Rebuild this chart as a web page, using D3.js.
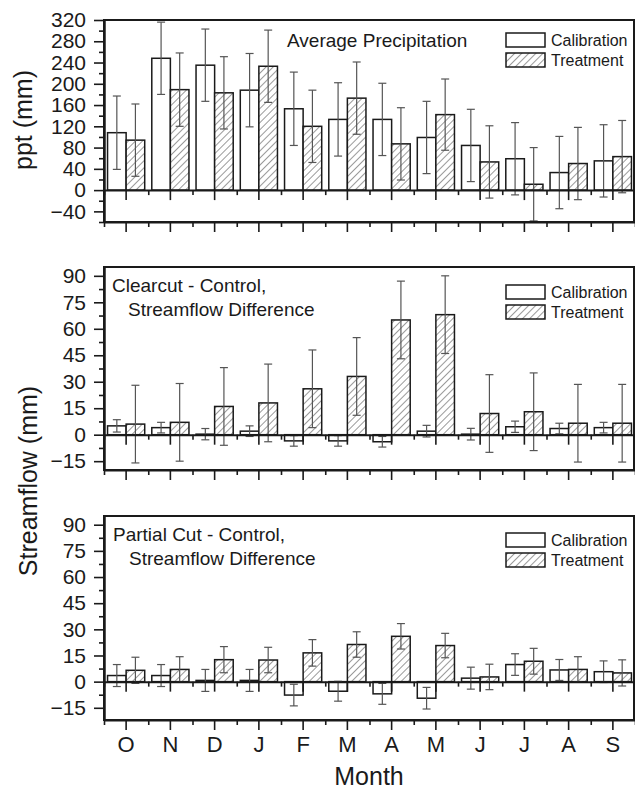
<!DOCTYPE html>
<html>
<head>
<meta charset="utf-8">
<script src="https://cdn.jsdelivr.net/npm/d3@7"></script>
<style>
  body { margin: 0; background: #fff; }
  svg { display: block; }
  text { font-family: "Liberation Sans", Arial, sans-serif; fill: #1a1a1a; }
</style>
</head>
<body>
<script>
/* -----------------------------------------------------
 *  Data
 ----------------------------------------------------- */
const months = ["O", "N", "D", "J", "F", "M", "A", "M", "J", "J", "A", "S"];

// Average precipitation (mm)
const pptCal = [108, 248, 235, 188, 153, 133, 133, 99, 84, 59, 33, 55];
const pptCalErr = [69, 68, 68, 69, 69, 69, 68, 68, 68, 68, 68, 68];
const pptTrt = [94, 189, 183, 233, 120, 173, 87, 142, 53, 11, 50, 63];
const pptTrtErr = [68, 69, 68, 68, 68, 68, 68, 67, 68, 69, 68, 68];

// Clearcut - control streamflow difference (mm)
const clearCal = [5, 4, 0.3, 2, -3.5, -3.5, -4, 2, 0.3, 4.5, 3.5, 4];
const clearCalErr = [3.5, 3, 3.2, 3, 3, 3, 3, 3.3, 3.3, 3.2, 3, 3];
const clearTrt = [6, 7, 16, 18, 26, 33, 65, 68, 12, 13, 6.5, 6.5];
const clearTrtErr = [22, 22, 22, 22, 22, 22, 22, 22, 22, 22, 22, 22];

// Partial cut - control streamflow difference (mm)
const partCal = [3.5, 3.5, 0.7, 0.7, -7.7, -5.5, -7, -9.5, 2, 9.8, 6.7, 5.7];
const partCalErr = [6.3, 6.3, 6.3, 6.3, 6.2, 5.7, 6, 6.2, 6.3, 6.2, 6, 6.2];
const partTrt = [6.5, 7, 12.6, 12.4, 16.5, 21.3, 26, 20.7, 2.7, 11.7, 7, 5];
const partTrtErr = [7.5, 7.3, 7.5, 7.3, 7.6, 7.3, 7.3, 7, 7.3, 7.4, 7.3, 7.5];

const seriesNames = ["Calibration", "Treatment"];

/* -----------------------------------------------------
 *  Layout
 ----------------------------------------------------- */
const width = 635;
const height = 792;
const left = 104;
const right = 634;

const panels = [
  {
    top: 20, bottom: 222, domain: [-60, 320], major: 40,
    cal: pptCal, calErr: pptCalErr, trt: pptTrt, trtErr: pptTrtErr,
    title: [["Average Precipitation", 287, 27]],
    legendY: 13
  },
  {
    top: 267, bottom: 470, domain: [-20, 95], major: 15,
    cal: clearCal, calErr: clearCalErr, trt: clearTrt, trtErr: clearTrtErr,
    title: [["Clearcut - Control,", 112, 25], ["Streamflow Difference", 128, 49]],
    legendY: 18
  },
  {
    top: 516, bottom: 720, domain: [-22, 95], major: 15,
    cal: partCal, calErr: partCalErr, trt: partTrt, trtErr: partTrtErr,
    title: [["Partial Cut - Control,", 113, 25], ["Streamflow Difference", 129, 49]],
    legendY: 17
  }
];

const svg = d3
  .select("body")
  .append("svg")
  .attr("width", width)
  .attr("height", height);

// hatch for treatment bars
svg
  .append("defs")
  .append("pattern")
  .attr("id", "hatch")
  .attr("patternUnits", "userSpaceOnUse")
  .attr("width", 5)
  .attr("height", 5)
  .attr("patternTransform", "rotate(45)")
  .call((p) => {
    p.append("rect").attr("width", 5).attr("height", 5).attr("fill", "#fff");
    p.append("line")
      .attr("x1", 0).attr("y1", 0).attr("x2", 0).attr("y2", 5)
      .attr("stroke", "#555").attr("stroke-width", 1.2);
  });

const x = d3
  .scaleBand()
  .domain(d3.range(months.length))
  .range([left, 635])
  .paddingInner(0.16)
  .paddingOuter(0.08);

const xSub = d3.scaleBand().domain(seriesNames).range([0, x.bandwidth()]);

// band edges, for the minor x ticks
const xEdge = d3.scaleLinear().domain([0, months.length]).range([left, 635]);

function styleAxis(g, w) {
  g.attr("color", "#1a1a1a");
  g.selectAll(".domain").attr("stroke-width", 2);
  g.selectAll(".tick line").attr("stroke-width", w || 1.6);
}

/* -----------------------------------------------------
 *  Panels
 ----------------------------------------------------- */
panels.forEach((p, pi) => {
  const y = d3.scaleLinear().domain(p.domain).range([p.bottom, p.top]);
  const y0 = y(0);
  const g = svg.append("g");

  const rows = months.map((m, i) => [
    { i, s: "Calibration", v: p.cal[i], e: p.calErr[i] },
    { i, s: "Treatment", v: p.trt[i], e: p.trtErr[i] }
  ]).flat();

  // bars
  g.selectAll(".bar")
    .data(rows)
    .enter()
    .append("rect")
    .attr("class", "bar")
    .attr("x", (d) => x(d.i) + xSub(d.s))
    .attr("width", xSub.bandwidth())
    .attr("y", (d) => Math.min(y(d.v), y0))
    .attr("height", (d) => Math.abs(y(d.v) - y0))
    .attr("fill", (d) => (d.s === "Treatment" ? "url(#hatch)" : "#fff"))
    .attr("stroke", "#1a1a1a")
    .attr("stroke-width", 1.5);

  // error bars
  const eb = g.selectAll(".err")
    .data(rows)
    .enter()
    .append("g")
    .attr("class", "err")
    .attr("stroke", "#555")
    .attr("stroke-width", 1.2);
  const cx = (d) => x(d.i) + xSub(d.s) + xSub.bandwidth() / 2;
  eb.append("line")
    .attr("x1", cx).attr("x2", cx)
    .attr("y1", (d) => y(d.v + d.e))
    .attr("y2", (d) => y(d.v - d.e));
  eb.append("line")
    .attr("x1", (d) => cx(d) - 4).attr("x2", (d) => cx(d) + 4)
    .attr("y1", (d) => y(d.v + d.e)).attr("y2", (d) => y(d.v + d.e));
  eb.append("line")
    .attr("x1", (d) => cx(d) - 4).attr("x2", (d) => cx(d) + 4)
    .attr("y1", (d) => y(d.v - d.e)).attr("y2", (d) => y(d.v - d.e));

  // frame
  g.append("rect")
    .attr("x", left)
    .attr("y", p.top)
    .attr("width", right - left)
    .attr("height", p.bottom - p.top)
    .attr("fill", "none")
    .attr("stroke", "#1a1a1a")
    .attr("stroke-width", 2);

  // y axis, major + minor
  const majors = d3.range(Math.ceil(p.domain[0] / p.major) * p.major, p.domain[1] + 0.1, p.major);
  const minors = d3.range(Math.ceil(p.domain[0] / (p.major / 2)) * (p.major / 2), p.domain[1] + 0.1, p.major / 2)
    .filter((v) => Math.abs(v / p.major - Math.round(v / p.major)) > 0.01);

  g.append("g")
    .attr("transform", `translate(${left},0)`)
    .call(d3.axisLeft(y).tickValues(minors).tickSize(5).tickSizeOuter(0).tickFormat(""))
    .call(styleAxis);
  g.append("g")
    .attr("transform", `translate(${left},0)`)
    .call(d3.axisLeft(y).tickValues(majors).tickSize(10).tickSizeOuter(0).tickPadding(8))
    .call(styleAxis)
    .call((a) => a.selectAll("text").style("font-size", "21px").attr("fill", "#1a1a1a"));

  // x ticks on the zero line and on the bottom frame
  [y0, p.bottom].forEach((yy) => {
    g.append("g")
      .attr("transform", `translate(0,${yy})`)
      .call(d3.axisBottom(xEdge).tickValues(d3.range(months.length + 1)).tickSize(5).tickSizeOuter(0).tickFormat(""))
      .call(styleAxis);
    const maj = g.append("g")
      .attr("transform", `translate(0,${yy})`)
      .call(d3.axisBottom(x).tickSize(10).tickSizeOuter(0).tickPadding(6).tickFormat((i) => months[i]))
      .call(styleAxis);
    maj.select(".domain").remove();
    if (pi === panels.length - 1 && yy === p.bottom) {
      maj.selectAll("text").style("font-size", "22px").attr("fill", "#1a1a1a");
    } else {
      maj.selectAll("text").remove();
    }
  });

  // panel title
  p.title.forEach(([t, tx, dy]) => {
    g.append("text")
      .attr("x", tx)
      .attr("y", p.top + dy)
      .style("font-size", "19px")
      .text(t);
  });

  // legend
  const lg = g.append("g").attr("transform", `translate(506,${p.top + p.legendY})`);
  seriesNames.forEach((s, k) => {
    lg.append("rect")
      .attr("x", 0)
      .attr("y", k * 20)
      .attr("width", 39)
      .attr("height", 14)
      .attr("fill", s === "Treatment" ? "url(#hatch)" : "#fff")
      .attr("stroke", "#1a1a1a")
      .attr("stroke-width", 1.5);
    lg.append("text")
      .attr("x", 45)
      .attr("y", k * 20 + 13)
      .style("font-size", "16px")
      .text(s);
  });
});

/* -----------------------------------------------------
 *  Axis titles
 ----------------------------------------------------- */
svg.append("text")
  .attr("transform", "translate(32,120) rotate(-90)")
  .attr("text-anchor", "middle")
  .style("font-size", "25px")
  .text("ppt (mm)");

svg.append("text")
  .attr("transform", "translate(37,481) rotate(-90)")
  .attr("text-anchor", "middle")
  .style("font-size", "25px")
  .text("Streamflow (mm)");

svg.append("text")
  .attr("x", 369)
  .attr("y", 785)
  .attr("text-anchor", "middle")
  .style("font-size", "25px")
  .text("Month");
</script>
</body>
</html>
